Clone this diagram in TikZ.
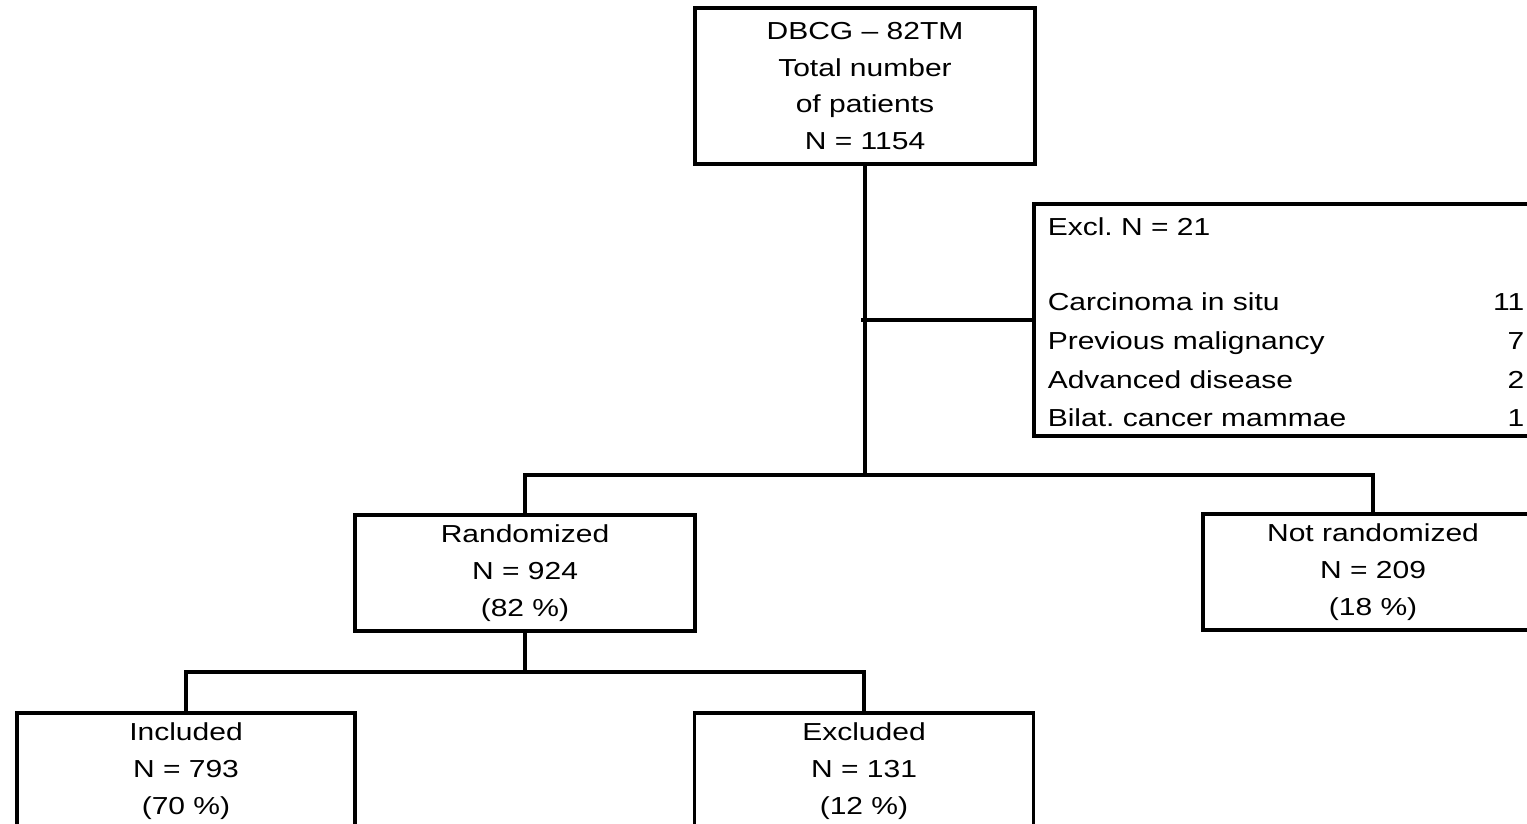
\documentclass[tikz,border=0pt]{standalone}
\usepackage{fontspec}
\setmainfont{Liberation Sans}[FakeStretch=1.22]
\frenchspacing

\begin{document}
\begin{tikzpicture}[x=0.02cm, y=-0.02cm, line width=2pt,
    font=\fontsize{14pt}{21pt}\selectfont]

        \useasboundingbox (0,0) rectangle (1527,824);
        \clip (0,0) rectangle (1527,824);

        \begin{scope}[every node/.style={draw, rectangle, align=center, inner sep=0pt,
            minimum width=6.8cm, minimum height=2.32cm}]
          \node (total)    [minimum height=3.12cm] at (865,86)  {DBCG -- 82TM\\Total number\\of patients\\N = 1154};
          \node (rand)     at (525,573)  {Randomized\\N = 924\\(82 \%)};
          \node (notrand)  at (1373,572) {Not randomized\\N = 209\\(18 \%)};
          \node (incl)     [minimum width=6.76cm] at (186,771) {Included\\N = 793\\(70 \%)};
          \node (excluded) [minimum width=6.78cm] at (864,771) {Excluded\\N = 131\\(12 \%)};
          \node (excl)     [minimum width=10.52cm, minimum height=4.64cm] at (1297,320) {};
        \end{scope}

        \begin{scope}[every node/.style={inner sep=0pt, text height=10pt, text depth=0pt}]
          \node (head)  [anchor=west] at (1046,227) {Excl. N = 21};
          \node (cis)   [anchor=west] at (1046,302) {Carcinoma in situ};
          \node (prev)  [anchor=west] at (1046,341) {Previous malignancy};
          \node (adv)   [anchor=west] at (1046,380) {Advanced disease};
          \node (bilat) [anchor=west] at (1046,418) {Bilat. cancer mammae};
          \node (ncis)   [anchor=east] at (1526,302) {11};
          \node (nprev)  [anchor=east] at (1526,341) {7};
          \node (nadv)   [anchor=east] at (1526,380) {2};
          \node (nbilat) [anchor=east] at (1526,418) {1};
        \end{scope}

        \coordinate (tee)    at (861,320);
        \coordinate (split1) at (865,475);
        \coordinate (split2) at (525,672);

        \draw (total.south) -- (split1);
        \draw (tee) -- (excl.west);
        \draw (rand.north) |- (split1) -| (notrand.north);
        \draw (rand.south) -- (split2);
        \draw (incl.north) |- (split2) -| (excluded.north);

      \end{tikzpicture}
\end{document}
